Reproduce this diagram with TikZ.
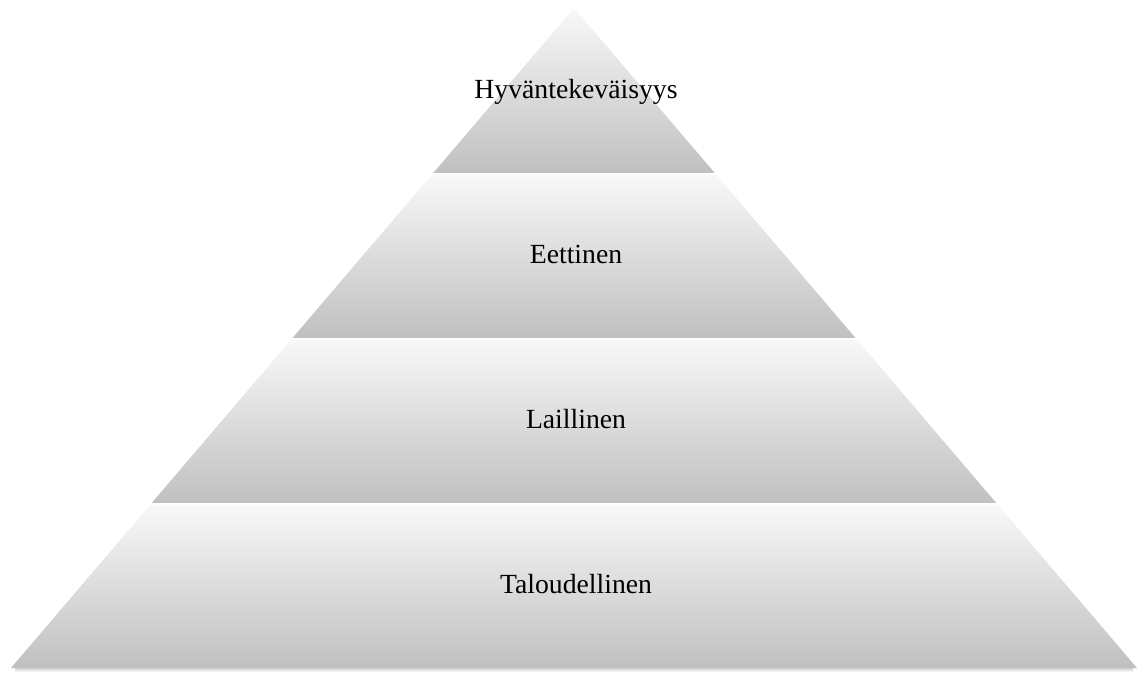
\documentclass[tikz,border=0pt]{standalone}
\usepackage{fontspec}
\setmainfont{Liberation Serif}
\usepackage{xcolor}
\usetikzlibrary{calc}
\definecolor{tierhi}{HTML}{F8F8F8}
\definecolor{tierlo}{HTML}{C0C0C0}
\definecolor{shadowc}{HTML}{D0D0D0}
\tikzset{
  tier/.style={top color=tierhi, bottom color=tierlo, draw=none},
  base shadow/.style={top color=shadowc, bottom color=white, draw=none},
  lab/.style={text=black, anchor=base, font=\fontsize{27.7}{32}\selectfont},
}
\begin{document}
\begin{tikzpicture}[x=1pt,y=1pt]
  \useasboundingbox (0,0) rectangle (1141,675);
  \coordinate (A) at (574,667);
  \coordinate (L) at (11,7);
  \coordinate (R) at (1137,7);

  % soft shadow under the base
  \shade[base shadow] ($(L)+(4,0)$) rectangle ($(R)+(-4,-4)$);

  % four tiers, bottom to top
  \shade[tier] (L) -- (R) -- ($(R)!0.2477!(A)$) -- ($(L)!0.2477!(A)$) -- cycle;
  \shade[tier] ($(L)!0.25!(A)$) -- ($(R)!0.25!(A)$) -- ($(R)!0.4977!(A)$) -- ($(L)!0.4977!(A)$) -- cycle;
  \shade[tier] ($(L)!0.5!(A)$) -- ($(R)!0.5!(A)$) -- ($(R)!0.7477!(A)$) -- ($(L)!0.7477!(A)$) -- cycle;
  \shade[tier] ($(L)!0.75!(A)$) -- ($(R)!0.75!(A)$) -- (A) -- cycle;

  \node[lab] (hyv) at (576,576) {Hyväntekeväisyys};
  \node[lab] (eet) at (576,411) {Eettinen};
  \node[lab] (lai) at (576,246) {Laillinen};
  \node[lab] (tal) at (576,81) {Taloudellinen};
\end{tikzpicture}
\end{document}
